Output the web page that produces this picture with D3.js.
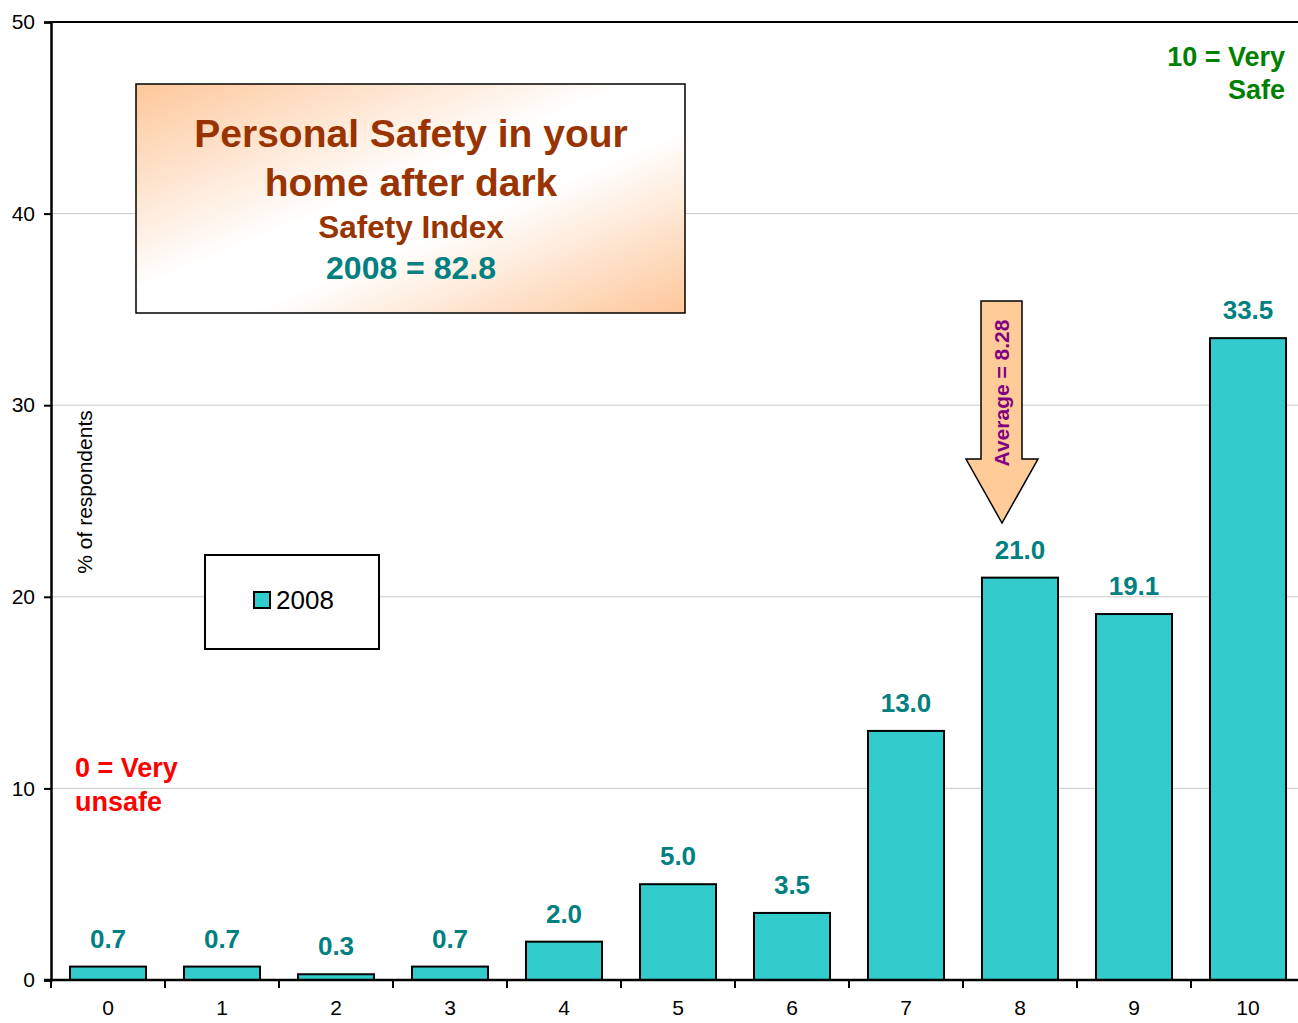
<!DOCTYPE html>
<html><head><meta charset="utf-8">
<script src="https://cdn.jsdelivr.net/npm/d3@7"></script>
<style>body{margin:0;background:#fff;font-family:"Liberation Sans",Arial,sans-serif;}</style>
</head><body>
<svg id="c" width="1298" height="1023"></svg>
<script>
const categories = ["0","1","2","3","4","5","6","7","8","9","10"];
const values2008 = [0.7,0.7,0.3,0.7,2.0,5.0,3.5,13.0,21.0,19.1,33.5];
const yTicks = [0,10,20,30,40,50];
const seriesName = "2008";
const averageValue = 8.28;

const svg = d3.select("#c");
const font = "'Liberation Sans', Arial, sans-serif";
const x = d3.scaleBand().domain(categories).range([51, 1305]).paddingInner(0.333).paddingOuter(0.1665);
const xTicks = d3.scaleBand().domain(categories).range([51, 1305]);
const y = d3.scaleLinear().domain([0, 50]).range([980, 22]);

// gradient
const defs = svg.append("defs");
const g = defs.append("linearGradient").attr("id","tg").attr("x1","0").attr("y1","0").attr("x2","1").attr("y2","1");
g.append("stop").attr("offset","0%").attr("stop-color","#FDC79A");
g.append("stop").attr("offset","45%").attr("stop-color","#ffffff");
g.append("stop").attr("offset","60%").attr("stop-color","#ffffff");
g.append("stop").attr("offset","100%").attr("stop-color","#FDC79A");

// gridlines
svg.append("g").selectAll("line").data(yTicks.filter(d=>d>0 && d<50)).join("line")
  .attr("x1",51).attr("x2",1298).attr("y1",d=>y(d)).attr("y2",d=>y(d))
  .attr("stroke","#c8c8c8").attr("stroke-width",1);
// top frame
svg.append("line").attr("x1",51).attr("x2",1298).attr("y1",y(50)).attr("y2",y(50)).attr("stroke","#000").attr("stroke-width",2);

// y axis
const ya = svg.append("g").attr("transform","translate(51,0)").call(d3.axisLeft(y).tickValues(yTicks).tickSize(7).tickPadding(9));
ya.select(".domain").attr("stroke","#000").attr("stroke-width",2.5);
ya.selectAll(".tick line").attr("stroke","#000").attr("stroke-width",2);
ya.selectAll("text").attr("font-family",font).attr("font-size",21).attr("fill","#000");

// bars
svg.append("g").selectAll("rect").data(values2008).join("rect")
  .attr("x",(d,i)=>x(categories[i])).attr("width",x.bandwidth())
  .attr("y",d=>y(d)).attr("height",d=>y(0)-y(d))
  .attr("fill","#33CCCC").attr("stroke","#000").attr("stroke-width",2);

// value labels
svg.append("g").selectAll("text").data(values2008).join("text")
  .attr("x",(d,i)=>x(categories[i])+x.bandwidth()/2).attr("y",d=>y(d)-19)
  .attr("text-anchor","middle").attr("font-family",font).attr("font-weight","bold")
  .attr("font-size",26).attr("fill","#008080").text(d=>d.toFixed(1));

// x axis
const xa = svg.append("g").attr("transform","translate(0,980)")
  .call(d3.axisBottom(xTicks).tickSize(0).tickPadding(20));
xa.select(".domain").remove();
xa.selectAll("text").attr("font-family",font).attr("font-size",21).attr("fill","#000");
svg.append("line").attr("x1",44).attr("x2",1298).attr("y1",980).attr("y2",980).attr("stroke","#000").attr("stroke-width",2.5);
svg.append("g").selectAll("line").data(d3.range(categories.length+1)).join("line")
  .attr("x1",i=>51+i*xTicks.step()).attr("x2",i=>51+i*xTicks.step())
  .attr("y1",980).attr("y2",988).attr("stroke","#000").attr("stroke-width",2);

// y label
svg.append("text").attr("transform","translate(92,492) rotate(-90)").attr("text-anchor","middle")
  .attr("font-family",font).attr("font-size",21).attr("fill","#000").text("% of respondents");

// title box
svg.append("rect").attr("x",136).attr("y",84).attr("width",549).attr("height",229)
  .attr("fill","url(#tg)").attr("stroke","#000").attr("stroke-width",1.5);
const tt = [
  {t:"Personal Safety in your", y:147, s:39, c:"#993300"},
  {t:"home after dark", y:196, s:39, c:"#993300"},
  {t:"Safety Index", y:238, s:31.5, c:"#993300"},
  {t:"2008 = 82.8", y:279, s:32, c:"#008080"}];
svg.append("g").selectAll("text").data(tt).join("text")
  .attr("x",411).attr("y",d=>d.y).attr("text-anchor","middle").attr("font-family",font)
  .attr("font-weight","bold").attr("font-size",d=>d.s).attr("fill",d=>d.c).text(d=>d.t);

// average arrow
const ax = 1002;
const arrowPts = [[981,301],[1022,301],[1022,459],[1038,459],[ax,523],[966,459],[981,459]];
svg.append("polygon").attr("points",arrowPts.map(p=>p.join(",")).join(" "))
  .attr("fill","#FFCC99").attr("stroke","#000").attr("stroke-width",1.5);
svg.append("text").attr("transform",`translate(${ax+7},393) rotate(-90)`).attr("text-anchor","middle")
  .attr("font-family",font).attr("font-weight","bold").attr("font-size",21).attr("fill","#800080")
  .text("Average = " + averageValue);

// legend
svg.append("rect").attr("x",205).attr("y",555).attr("width",174).attr("height",94)
  .attr("fill","#fff").attr("stroke","#000").attr("stroke-width",2);
svg.append("rect").attr("x",254).attr("y",592).attr("width",16).attr("height",16)
  .attr("fill","#33CCCC").attr("stroke","#000").attr("stroke-width",2);
svg.append("text").attr("x",276).attr("y",609).attr("font-family",font).attr("font-size",26)
  .attr("fill","#000").text(seriesName);

// annotations
const red = svg.append("text").attr("font-family",font).attr("font-weight","bold").attr("font-size",27).attr("fill","#FF0000");
red.append("tspan").attr("x",75).attr("y",777).text("0 = Very");
red.append("tspan").attr("x",75).attr("y",811).text("unsafe");
const grn = svg.append("text").attr("font-family",font).attr("font-weight","bold").attr("font-size",27).attr("fill","#008000").attr("text-anchor","end");
grn.append("tspan").attr("x",1285).attr("y",66).text("10 = Very");
grn.append("tspan").attr("x",1285).attr("y",99).text("Safe");
</script>
</body></html>
